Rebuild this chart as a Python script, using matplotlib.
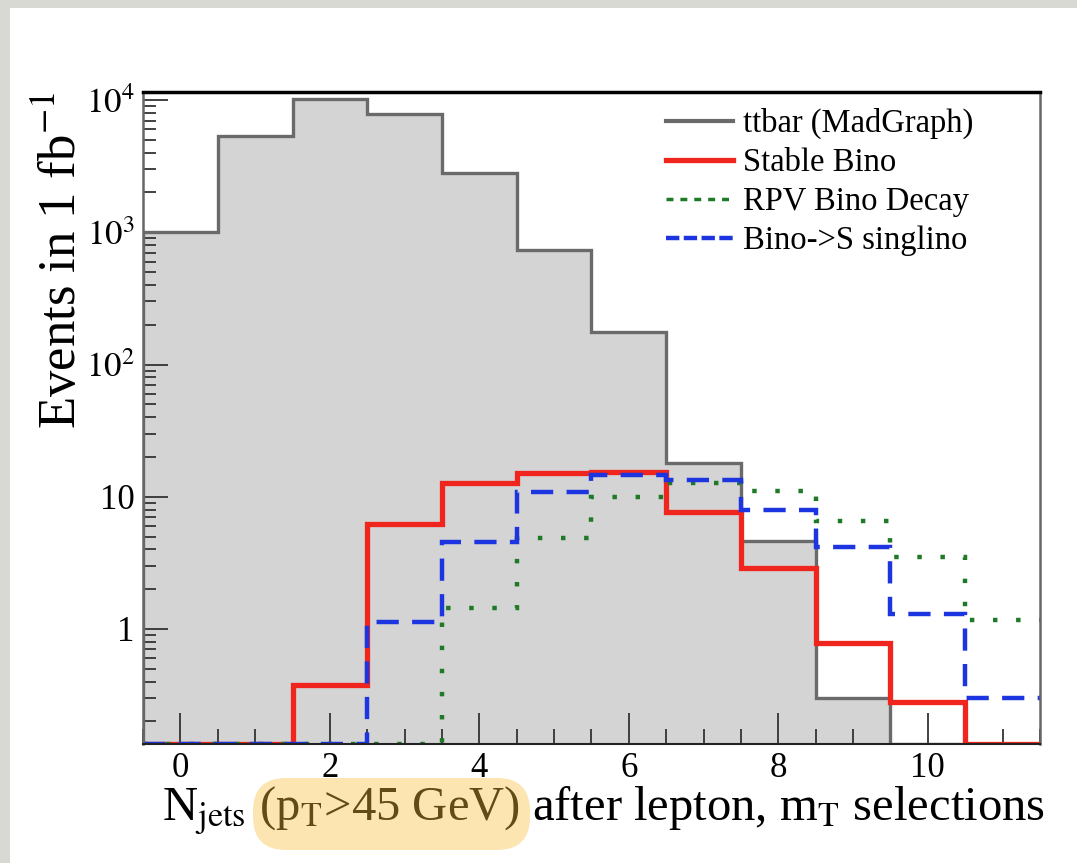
import numpy as np
import matplotlib
matplotlib.use('Agg')
import matplotlib.pyplot as plt
from matplotlib.lines import Line2D
from matplotlib.patches import FancyBboxPatch, Rectangle
from matplotlib.ticker import LogLocator, FixedLocator, FixedFormatter, MultipleLocator, NullFormatter

# ── Data: N_jets histograms (events in 1 fb^-1), bins centred on 0..11 ─────
n_jets      = np.arange(12)
ttbar       = [1000, 5370, 10200, 7800, 2830, 740, 175, 17.9, 4.6, 0.30, 0, 0]
stable_bino = [0, 0, 0.38, 6.2, 12.6, 15.2, 15.4, 7.7, 2.9, 0.79, 0.28, 0]
rpv_decay   = [0, 0, 0, 0, 1.43, 4.9, 9.9, 12.8, 11.1, 6.5, 3.5, 1.17]
singlino    = [0, 0, 0, 1.13, 4.57, 10.9, 14.6, 13.4, 7.9, 4.15, 1.30, 0.30]

labels = ["ttbar (MadGraph)", "Stable Bino", "RPV Bino Decay", "Bino->S singlino"]
y_ticks  = [1, 10, 100, 1000, 10000]
y_labels = ["1", "10", r"$10^{2}$", r"$10^{3}$", r"$10^{4}$"]

ymin, ymax = 0.135, 1.15e4
edges = np.append(n_jets - 0.5, n_jets[-1] + 0.5)


def floor_to_axis(vals):
    # ROOT draws empty bins on the axis minimum
    v = np.asarray(vals, dtype=float)
    return np.where(v > 0, v, ymin)


plt.rcParams['font.family'] = ['Liberation Serif', 'DejaVu Serif']
plt.rcParams['mathtext.fontset'] = 'stix'

fig = plt.figure(figsize=(10.77, 8.63), dpi=100, facecolor='#d9d9d3')
# white slide panel
fig.patches.append(Rectangle((0.10, 0.0), 10.8, 8.55, transform=fig.dpi_scale_trans,
                             facecolor='white', edgecolor='none', zorder=-5))

ax = fig.add_axes([0.1328, 0.1379, 0.8328, 0.7555])
ax.set_yscale('log')

# ── Histograms ─────────────────────────────────────────────────────────────
ax.stairs(floor_to_axis(ttbar), edges, baseline=ymin, fill=True,
          color='#d4d4d4', zorder=1)
ax.stairs(floor_to_axis(ttbar), edges, baseline=ymin,
          color='#6a6a6a', linewidth=2.4, zorder=2)
ax.stairs(floor_to_axis(stable_bino), edges, baseline=None,
          color='#f0261e', linewidth=3.8, zorder=3)
ax.stairs(floor_to_axis(rpv_decay), edges, baseline=None,
          color='#1e7a26', linewidth=3.2, linestyle=(0, (1, 4.2)), zorder=4)
ax.stairs(floor_to_axis(singlino), edges, baseline=None,
          color='#1c35e0', linewidth=3.2, linestyle=(0, (5, 3)), zorder=5)

ax.set_xlim(-0.5, 11.5)
ax.set_ylim(ymin, ymax)

# ── Axes styling (ROOT look) ───────────────────────────────────────────────
ax.xaxis.set_major_locator(MultipleLocator(2))
ax.xaxis.set_minor_locator(MultipleLocator(0.5))
ax.yaxis.set_major_locator(FixedLocator(y_ticks))
ax.yaxis.set_major_formatter(FixedFormatter(y_labels))
ax.yaxis.set_minor_locator(LogLocator(base=10, subs=np.arange(2, 10)))
ax.yaxis.set_minor_formatter(NullFormatter())

ax.tick_params(which='both', direction='in', top=False, right=False,
               labelsize=25, color='#333333')
ax.tick_params(axis='x', which='major', length=22, width=1.3, pad=6)
ax.tick_params(axis='x', which='minor', length=11, width=1.3)
ax.tick_params(axis='y', which='major', length=18, width=1.3, pad=6)
ax.tick_params(axis='y', which='minor', length=9, width=1.3)

ax.spines['top'].set_linewidth(2.5)
ax.spines['top'].set_color('black')
ax.spines['bottom'].set_linewidth(1.5)
ax.spines['bottom'].set_color('#222222')
ax.spines['left'].set_linewidth(1.8)
ax.spines['left'].set_color('#666666')
ax.spines['right'].set_linewidth(1.8)
ax.spines['right'].set_color('#666666')
for sp in ax.spines.values():
    sp.set_zorder(6)

# ── Legend ─────────────────────────────────────────────────────────────────
handles = [
    Line2D([], [], color='#6a6a6a', linewidth=3),
    Line2D([], [], color='#f0261e', linewidth=3.8),
    Line2D([], [], color='#1e7a26', linewidth=2.5, linestyle=(0, (2, 2))),
    Line2D([], [], color='#1c35e0', linewidth=3.2, linestyle=(0, (3, 1))),
]
ax.legend(handles, labels, loc='upper left', bbox_to_anchor=(666 / 1077, 1 - 108 / 863),
          bbox_transform=fig.transFigure, frameon=False, fontsize=23.5,
          borderpad=0, borderaxespad=0,
          handlelength=2.05, handletextpad=0.3, labelspacing=0.26)

# ── Axis titles ────────────────────────────────────────────────────────────
fig.text(62 / 1077, 1 - 92 / 863, r"Events in 1 fb$^{-1}$", rotation=90,
         ha='center', va='top', fontsize=38)
fig.text(1045 / 1077, 1 - 820 / 863,
         r"N$_{\rm jets}$ (p$_{\rm T}$>45 GeV) after lepton, m$_{\rm T}$ selections",
         ha='right', va='baseline', fontsize=35)

# highlighter mark over "(pT>45 GeV)"
fig.patches.append(FancyBboxPatch((2.53, 0.13), 2.77, 0.72,
                                  boxstyle='round,pad=0,rounding_size=0.33',
                                  transform=fig.dpi_scale_trans,
                                  facecolor='#fabe3e', edgecolor='none',
                                  alpha=0.4, zorder=10))

fig.savefig('out.png', dpi=100, facecolor=fig.get_facecolor())
